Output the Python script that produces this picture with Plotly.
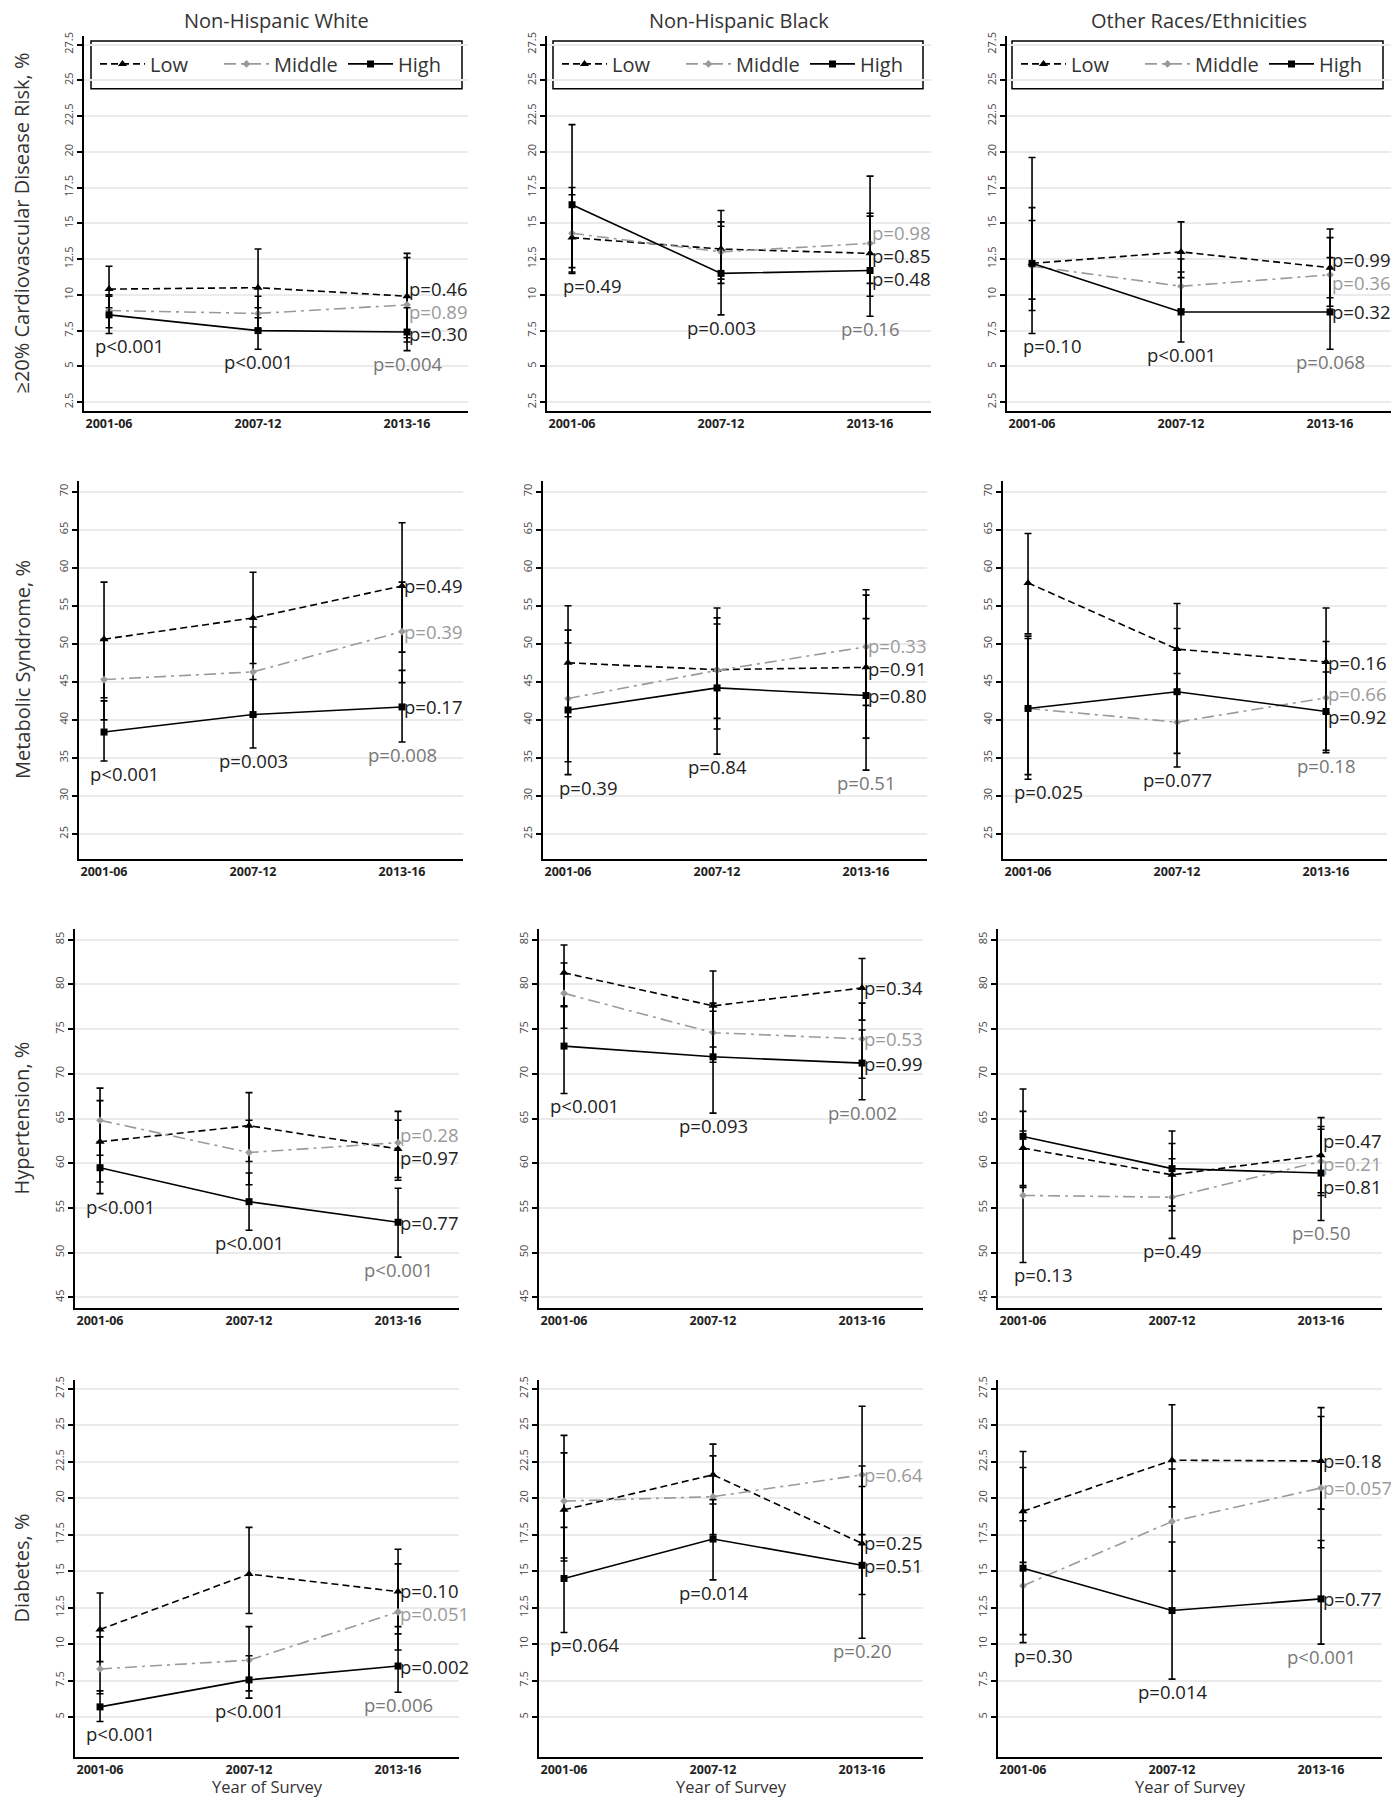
import plotly.graph_objects as go

# ---------------- data ----------------
YEARS = ["2001-06", "2007-12", "2013-16"]
LEVELS = ["Low", "Middle", "High"]
GROUPS = ["Non-Hispanic White", "Non-Hispanic Black", "Other Races/Ethnicities"]
OUTCOMES = ["≥20% Cardiovascular Disease Risk, %", "Metabolic Syndrome, %",
            "Hypertension, %", "Diabetes, %"]
TICKS_CVD = [2.5, 5, 7.5, 10, 12.5, 15, 17.5, 20, 22.5, 25, 27.5]
TICKS_METS = [25, 30, 35, 40, 45, 50, 55, 60, 65, 70]
TICKS_HTN = [45, 50, 55, 60, 65, 70, 75, 80, 85]
TICKS_DM = [5, 7.5, 10, 12.5, 15, 17.5, 20, 22.5, 25, 27.5]

# rows: Low, Middle, High ; columns: YEARS
CVD_NHW_EST = [[10.4, 10.5, 9.9], [8.9, 8.7, 9.3], [8.6, 7.5, 7.4]]
CVD_NHW_LO = [[9.1, 8.4, 6.7], [7.7, 7.6, 7.0], [7.3, 6.2, 6.1]]
CVD_NHW_HI = [[12.0, 13.2, 12.9], [10.0, 9.9, 12.6], [9.9, 9.1, 9.1]]
CVD_NHW_TREND = ["p=0.46", "p=0.89", "p=0.30"]
CVD_NHW_GAP = ["p<0.001", "p<0.001", "p=0.004"]

CVD_NHB_EST = [[14.0, 13.2, 12.9], [14.3, 13.0, 13.6], [16.3, 11.5, 11.7]]
CVD_NHB_LO = [[11.6, 10.8, 9.9], [11.5, 11.1, 10.8], [11.9, 8.6, 8.5]]
CVD_NHB_HI = [[17.0, 15.9, 15.5], [17.5, 15.1, 18.3], [21.9, 14.8, 15.7]]
CVD_NHB_TREND = ["p=0.85", "p=0.98", "p=0.48"]
CVD_NHB_GAP = ["p=0.49", "p=0.003", "p=0.16"]

CVD_OTH_EST = [[12.2, 13.0, 11.9], [12.0, 10.6, 11.4], [12.2, 8.8, 8.8]]
CVD_OTH_LO = [[8.9, 11.2, 9.8], [9.7, 9.0, 9.2], [7.3, 6.7, 6.2]]
CVD_OTH_HI = [[16.1, 15.1, 14.6], [15.2, 12.5, 14.0], [19.6, 11.6, 12.6]]
CVD_OTH_TREND = ["p=0.99", "p=0.36", "p=0.32"]
CVD_OTH_GAP = ["p=0.10", "p<0.001", "p=0.068"]

METS_NHW_EST = [[50.6, 53.4, 57.6], [45.3, 46.3, 51.6], [38.4, 40.7, 41.7]]
METS_NHW_LO = [[42.9, 47.4, 48.9], [40.0, 40.5, 44.9], [34.6, 36.3, 37.1]]
METS_NHW_HI = [[58.1, 59.4, 65.9], [50.6, 52.2, 58.1], [42.5, 45.3, 46.5]]
METS_NHW_TREND = ["p=0.49", "p=0.39", "p=0.17"]
METS_NHW_GAP = ["p<0.001", "p=0.003", "p=0.008"]

METS_NHB_EST = [[47.5, 46.6, 46.9], [42.8, 46.5, 49.6], [41.3, 44.2, 43.2]]
METS_NHB_LO = [[40.4, 38.8, 37.6], [34.5, 40.2, 41.9], [32.8, 35.5, 33.4]]
METS_NHB_HI = [[55.0, 54.7, 56.4], [51.8, 53.4, 57.1], [50.1, 52.6, 53.3]]
METS_NHB_TREND = ["p=0.91", "p=0.33", "p=0.80"]
METS_NHB_GAP = ["p=0.39", "p=0.84", "p=0.51"]

METS_OTH_EST = [[58.0, 49.3, 47.6], [41.5, 39.7, 42.9], [41.5, 43.7, 41.1]]
METS_OTH_LO = [[51.3, 43.5, 40.9], [32.8, 33.8, 35.7], [32.2, 35.6, 36.0]]
METS_OTH_HI = [[64.5, 55.3, 54.7], [50.7, 46.1, 50.3], [51.0, 52.0, 46.3]]
METS_OTH_TREND = ["p=0.16", "p=0.66", "p=0.92"]
METS_OTH_GAP = ["p=0.025", "p=0.077", "p=0.18"]

HTN_NHW_EST = [[62.4, 64.2, 61.6], [64.8, 61.2, 62.3], [59.5, 55.7, 53.4]]
HTN_NHW_LO = [[57.9, 60.2, 58.1], [60.9, 57.6, 58.4], [56.6, 52.5, 49.5]]
HTN_NHW_HI = [[67.0, 67.9, 64.8], [68.4, 64.8, 65.8], [62.4, 58.9, 57.2]]
HTN_NHW_TREND = ["p=0.97", "p=0.28", "p=0.77"]
HTN_NHW_GAP = ["p<0.001", "p<0.001", "p<0.001"]

HTN_NHB_EST = [[81.3, 77.6, 79.6], [79.0, 74.6, 73.9], [73.1, 71.9, 71.2]]
HTN_NHB_LO = [[77.6, 73.0, 76.0], [75.1, 71.3, 69.5], [67.8, 65.6, 67.1]]
HTN_NHB_HI = [[84.4, 81.5, 82.9], [82.4, 77.9, 77.9], [77.5, 77.0, 74.9]]
HTN_NHB_TREND = ["p=0.34", "p=0.53", "p=0.99"]
HTN_NHB_GAP = ["p<0.001", "p=0.093", "p=0.002"]

HTN_OTH_EST = [[61.7, 58.7, 60.9], [56.4, 56.2, 60.2], [63.0, 59.4, 58.9]]
HTN_OTH_LO = [[57.5, 54.7, 56.7], [48.9, 51.6, 56.4], [57.3, 55.2, 53.6]]
HTN_OTH_HI = [[65.8, 62.2, 65.1], [63.6, 60.5, 64.1], [68.3, 63.6, 63.8]]
HTN_OTH_TREND = ["p=0.47", "p=0.21", "p=0.81"]
HTN_OTH_GAP = ["p=0.13", "p=0.49", "p=0.50"]

DM_NHW_EST = [[11.0, 14.8, 13.6], [8.3, 8.9, 12.2], [5.7, 7.55, 8.5]]
DM_NHW_LO = [[8.8, 12.1, 10.7], [6.6, 6.8, 9.6], [4.7, 6.3, 6.7]]
DM_NHW_HI = [[13.5, 18.0, 16.5], [10.5, 11.2, 15.5], [6.8, 9.2, 11.2]]
DM_NHW_TREND = ["p=0.10", "p=0.051", "p=0.002"]
DM_NHW_GAP = ["p<0.001", "p<0.001", "p=0.006"]

DM_NHB_EST = [[19.2, 21.6, 16.9], [19.8, 20.1, 21.6], [14.5, 17.2, 15.4]]
DM_NHB_LO = [[15.7, 19.6, 13.4], [15.9, 17.5, 17.5], [10.8, 14.4, 10.4]]
DM_NHB_HI = [[24.3, 23.7, 20.8], [23.1, 22.9, 26.3], [18.0, 19.9, 22.2]]
DM_NHB_TREND = ["p=0.25", "p=0.64", "p=0.51"]
DM_NHB_GAP = ["p=0.064", "p=0.014", "p=0.20"]

DM_OTH_EST = [[19.1, 22.6, 22.55], [14.0, 18.4, 20.7], [15.2, 12.3, 13.1]]
DM_OTH_LO = [[15.6, 19.4, 19.25], [10.1, 15.0, 16.6], [10.65, 7.6, 10.0]]
DM_OTH_HI = [[23.2, 26.4, 26.2], [18.45, 22.0, 25.6], [22.1, 17.0, 17.1]]
DM_OTH_TREND = ["p=0.18", "p=0.057", "p=0.77"]
DM_OTH_GAP = ["p=0.30", "p=0.014", "p<0.001"]

PANELS = [
    [(CVD_NHW_EST, CVD_NHW_LO, CVD_NHW_HI, CVD_NHW_TREND, CVD_NHW_GAP),
     (CVD_NHB_EST, CVD_NHB_LO, CVD_NHB_HI, CVD_NHB_TREND, CVD_NHB_GAP),
     (CVD_OTH_EST, CVD_OTH_LO, CVD_OTH_HI, CVD_OTH_TREND, CVD_OTH_GAP)],
    [(METS_NHW_EST, METS_NHW_LO, METS_NHW_HI, METS_NHW_TREND, METS_NHW_GAP),
     (METS_NHB_EST, METS_NHB_LO, METS_NHB_HI, METS_NHB_TREND, METS_NHB_GAP),
     (METS_OTH_EST, METS_OTH_LO, METS_OTH_HI, METS_OTH_TREND, METS_OTH_GAP)],
    [(HTN_NHW_EST, HTN_NHW_LO, HTN_NHW_HI, HTN_NHW_TREND, HTN_NHW_GAP),
     (HTN_NHB_EST, HTN_NHB_LO, HTN_NHB_HI, HTN_NHB_TREND, HTN_NHB_GAP),
     (HTN_OTH_EST, HTN_OTH_LO, HTN_OTH_HI, HTN_OTH_TREND, HTN_OTH_GAP)],
    [(DM_NHW_EST, DM_NHW_LO, DM_NHW_HI, DM_NHW_TREND, DM_NHW_GAP),
     (DM_NHB_EST, DM_NHB_LO, DM_NHB_HI, DM_NHB_TREND, DM_NHB_GAP),
     (DM_OTH_EST, DM_OTH_LO, DM_OTH_HI, DM_OTH_TREND, DM_OTH_GAP)],
]
ROW_TICKS = [TICKS_CVD, TICKS_METS, TICKS_HTN, TICKS_DM]

# ---------------- layout geometry (screen pixels) ----------------
OFF = 8                      # default page margin around the plot div
FW, FH = 1399 - OFF, 1800 - OFF


def px_x(px):
    return (px - OFF) / FW


def px_y(py):
    return 1 - (py - OFF) / FH


ROW_PX = [(32, 408), (478, 857), (927, 1307), (1379, 1757)]
COL_LEFT_PX = [[84, 547, 1007], [79, 543, 1003], [75, 539, 998], [75, 539, 998]]
PANEL_W = 384
X_RANGE = [-0.168, 2.409]
Y_RANGES = [[1.87, 28.1], [21.7, 71.4], [43.8, 86.2], [2.26, 28.1]]

FONT = "Open Sans"
DARK = "#222222"
STYLE = {
    "Low": dict(color="black", dash="7px,4px", symbol="triangle-up", msize=8, lw=1.6),
    "Middle": dict(color="#9a9a9a", dash="12px,5px,3px,5px", symbol="diamond", msize=6, lw=1.6),
    "High": dict(color="black", dash="solid", symbol="square", msize=7, lw=1.6),
}
TREND_COLORS = [DARK, "#9a9a9a", DARK]
GAP_COLORS = [DARK, DARK, "#777777"]
P_SIZE = 18.5


def spread(vals, sep):
    order = sorted(range(len(vals)), key=lambda i: -vals[i])
    pos = [vals[i] for i in order]
    for _ in range(100):
        moved = False
        for j in range(len(pos) - 1):
            g = pos[j] - pos[j + 1]
            if g < sep - 1e-9:
                d = (sep - g) / 2
                pos[j] += d
                pos[j + 1] -= d
                moved = True
        if not moved:
            break
    out = [0] * len(vals)
    for k, i in enumerate(order):
        out[i] = pos[k]
    return out


fig = go.Figure()
layout = {}
annotations = []
shapes = []

for r in range(4):
    top, bot = ROW_PX[r]
    ydom = [px_y(bot), px_y(top)]
    ppu = (bot - top) / (Y_RANGES[r][1] - Y_RANGES[r][0])
    for c in range(3):
        idx = r * 3 + c + 1
        sfx = "" if idx == 1 else str(idx)
        left = COL_LEFT_PX[r][c]
        xdom = [px_x(left), px_x(left + PANEL_W)]
        est, lo, hi, trend, gap = PANELS[r][c]
        layout["xaxis" + sfx] = dict(
            domain=xdom, anchor="y" + sfx, type="category", range=X_RANGE,
            showline=True, linecolor="black", linewidth=2, showgrid=False,
            ticks="", tickfont=dict(family=FONT, size=12.5, color=DARK, weight="bold"),
            zeroline=False, fixedrange=True)
        layout["yaxis" + sfx] = dict(
            domain=ydom, anchor="x" + sfx, range=Y_RANGES[r],
            tickmode="array", tickvals=ROW_TICKS[r],
            ticktext=[("%g" % t) for t in ROW_TICKS[r]],
            tickangle=-90, ticks="outside", ticklen=5, tickwidth=1.5, tickcolor="black",
            tickfont=dict(family=FONT, size=11, color="#444444"),
            showline=True, linecolor="black", linewidth=2,
            showgrid=True, gridcolor="#ebebeb", gridwidth=1.5, zeroline=False, fixedrange=True)
        leg = "legend" if c == 0 else "legend%d" % (c + 1)
        for k, lev in enumerate(LEVELS):
            st = STYLE[lev]
            fig.add_trace(go.Scatter(
                x=YEARS, y=est[k], name=lev, mode="lines+markers",
                line=dict(color=st["color"], dash=st["dash"], width=st["lw"]),
                marker=dict(symbol=st["symbol"], size=st["msize"], color=st["color"]),
                error_y=dict(type="data", symmetric=False,
                             array=[h - e for h, e in zip(hi[k], est[k])],
                             arrayminus=[e - l for e, l in zip(est[k], lo[k])],
                             color="black", thickness=1.6, width=3.5),
                xaxis="x" + sfx, yaxis="y" + sfx, legend=leg, showlegend=(r == 0),
                hoverinfo="skip"))
        # trend p-values at right
        last = [est[k][2] for k in range(3)]
        ypos = spread(last, 23.0 / ppu)
        for k in range(3):
            annotations.append(dict(
                x=YEARS[2], y=ypos[k], xref="x" + sfx, yref="y" + sfx, text=trend[k],
                showarrow=False, xanchor="left", yanchor="middle", xshift=0,
                font=dict(family=FONT, size=P_SIZE, color=TREND_COLORS[k])))
        # group-difference p-values below each survey period
        for j in range(3):
            ymin = min(lo[k][j] for k in range(3))
            annotations.append(dict(
                x=YEARS[j], y=ymin, xref="x" + sfx, yref="y" + sfx, text=gap[j],
                showarrow=False, xanchor="center", yanchor="top",
                xshift=(20 if j == 0 else 0), yshift=2,
                font=dict(family=FONT, size=P_SIZE, color=GAP_COLORS[j])))

# column titles and x titles
for c in range(3):
    left = COL_LEFT_PX[0][c]
    annotations.append(dict(x=px_x(left + PANEL_W / 2), y=px_y(17), xref="paper", yref="paper",
                            text=GROUPS[c], showarrow=False, xanchor="center", yanchor="middle",
                            font=dict(family=FONT, size=20, color="#333333")))
    left = COL_LEFT_PX[3][c]
    annotations.append(dict(x=px_x(left + PANEL_W / 2), y=0, xref="paper", yref="paper",
                            text="Year of Survey", showarrow=False, xanchor="center", yanchor="bottom",
                            font=dict(family=FONT, size=16.5, color="#333333")))
# row titles
for r in range(4):
    top, bot = ROW_PX[r]
    annotations.append(dict(x=px_x(22), y=px_y((top + bot) / 2), xref="paper", yref="paper",
                            text=OUTCOMES[r], textangle=-90, showarrow=False,
                            xanchor="center", yanchor="middle",
                            font=dict(family=FONT, size=20, color="#333333")))

# legend boxes
LEG_BOX_PX = [(91, 462), (553, 923), (1012, 1383)]
for c in range(3):
    key = "legend" if c == 0 else "legend%d" % (c + 1)
    x0, x1 = LEG_BOX_PX[c]
    shapes.append(dict(type="rect", xref="paper", yref="paper",
                       x0=px_x(x0), x1=px_x(x1), y0=px_y(85), y1=px_y(37),
                       line=dict(color="black", width=1.5), fillcolor="white", layer="below"))
    layout[key] = dict(
        x=px_x(x0 + 4), y=px_y(60), xref="paper", yref="paper",
        xanchor="left", yanchor="middle", orientation="h",
        borderwidth=0, bgcolor="rgba(0,0,0,0)",
        font=dict(family=FONT, size=20, color="#333333"),
        itemwidth=45, entrywidth=64, entrywidthmode="pixels")

fig.update_layout(**layout)
fig.update_layout(
    width=FW, height=FH, autosize=False,
    margin=dict(l=0, r=0, t=0, b=0),
    paper_bgcolor="white", plot_bgcolor="white",
    annotations=annotations, shapes=shapes,
    font=dict(family=FONT),
)
fig.write_html("out.html")
